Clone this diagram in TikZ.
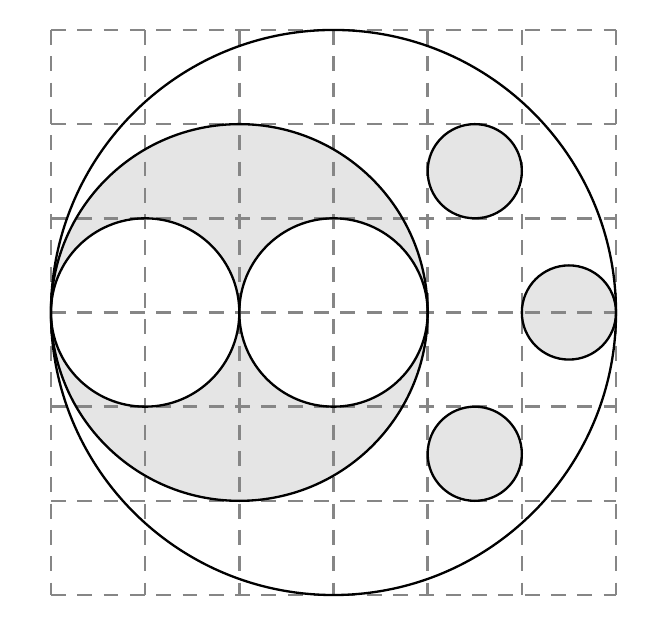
\documentclass[tikz,border=0pt]{standalone}
\begin{document}
\begin{tikzpicture}[
  gridline/.style={draw=gray!95, line width=0.8pt, dash pattern=on 4.5pt off 3.45pt},
  outline/.style={draw=black, line width=0.7pt},
  shade/.style={fill=gray!20}
]
\useasboundingbox (-0.541,-0.456) rectangle (6.552,6.318);
% fills
\fill[shade] (2,3) circle (2);
\fill[white] (1,3) circle (1);
\fill[white] (3,3) circle (1);
\fill[shade] (4.5,4.5) circle (0.5);
\fill[shade] (5.5,3) circle (0.5);
\fill[shade] (4.5,1.5) circle (0.5);
% grid
\foreach \i in {0,...,6} {
  \draw[gridline] (\i,6) -- (\i,0);
  \draw[gridline] (0,\i) -- (6,\i);
}
% outlines
\draw[outline] (3,3) circle (3);
\draw[outline] (2,3) circle (2);
\draw[outline] (1,3) circle (1);
\draw[outline] (3,3) circle (1);
\draw[outline] (4.5,4.5) circle (0.5);
\draw[outline] (5.5,3) circle (0.5);
\draw[outline] (4.5,1.5) circle (0.5);
\end{tikzpicture}
\end{document}
